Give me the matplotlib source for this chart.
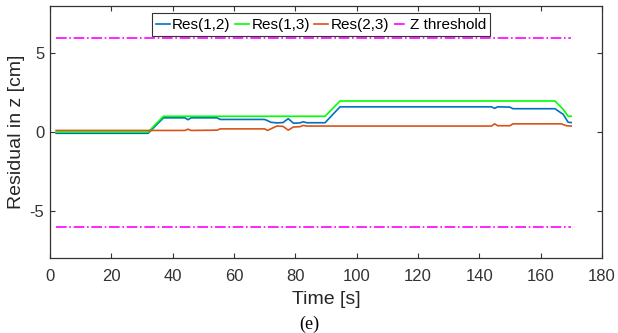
import matplotlib
matplotlib.use("Agg")
import matplotlib.pyplot as plt

# Data
t_b = [2, 32, 37, 44, 45, 46, 54.5, 55.5, 56.5, 70, 71, 72, 74, 76, 77.7, 79.4, 81.5, 82.6, 83.7, 89.7, 94.6, 144, 145, 146, 150, 151, 164.7, 167.4, 169, 170]
v_b = [-0.08, -0.08, 0.9, 0.9, 0.78, 0.9, 0.9, 0.8, 0.8, 0.8, 0.72, 0.62, 0.58, 0.6, 0.85, 0.56, 0.58, 0.65, 0.59, 0.59, 1.6, 1.6, 1.5, 1.6, 1.58, 1.48, 1.48, 1.12, 0.62, 0.6]

t_g = [2, 32, 37, 89.7, 94.6, 164.7, 167.4, 169, 170]
v_g = [0.0, 0.0, 1.0, 1.0, 1.97, 1.97, 1.44, 1.0, 1.0]

t_o = [2, 32, 37, 44, 45, 46, 54.5, 55.5, 57, 70, 71, 72, 74, 76, 77.7, 79.4, 81.5, 82.6, 83.7, 144, 145, 146, 150, 151, 166.8, 168.4, 170]
v_o = [0.1, 0.1, 0.1, 0.1, 0.18, 0.1, 0.12, 0.2, 0.2, 0.2, 0.1, 0.2, 0.38, 0.36, 0.12, 0.32, 0.34, 0.42, 0.38, 0.38, 0.52, 0.4, 0.4, 0.52, 0.52, 0.4, 0.38]

t_thr = [2, 170]
threshold = 6

labels = ["Res(1,2)", "Res(1,3)", "Res(2,3)", "Z threshold"]
x_ticks = [0, 20, 40, 60, 80, 100, 120, 140, 160, 180]
y_ticks = [-5, 0, 5]

plt.rcParams['font.family'] = ['Liberation Sans', 'DejaVu Sans']
plt.rcParams['axes.unicode_minus'] = False

fig = plt.figure(figsize=(6.18, 3.33), dpi=100)
ax = fig.add_axes([0.0809, 0.225, 0.893, 0.757])

ax.plot(t_b, v_b, color='#0072BD', lw=1.2, label=labels[0])
ax.plot(t_g, v_g, color='#00FF00', lw=1.2, label=labels[1])
ax.plot(t_o, v_o, color='#D95319', lw=1.2, label=labels[2])
ax.plot(t_thr, [threshold, threshold], color='#FF00FF', lw=1.2, ls='-.', label=labels[3])
ax.plot(t_thr, [-threshold, -threshold], color='#FF00FF', lw=1.2, ls='-.')

ax.set_xlim(0, 180)
ax.set_ylim(-8, 8)
ax.set_xticks(x_ticks)
ax.set_yticks(y_ticks)
ax.tick_params(direction='in', top=True, right=True, labelsize=12, colors='#333333', length=3.6, width=0.8)
ax.tick_params(axis='x', pad=8)
ax.tick_params(axis='y', pad=4)
for sp in ax.spines.values():
    sp.set_color('#333333')
    sp.set_linewidth(0.9)
ax.set_xlabel("Time [s]", fontsize=14, color='#262626', va='center')
ax.xaxis.set_label_coords(0.5, -0.165)
ax.set_ylabel("Residual in z [cm]", fontsize=14, color='#262626', va='center')
ax.yaxis.set_label_coords(-0.0603, 0.5)

leg = ax.legend(loc='upper center', bbox_to_anchor=(0.491, 0.971), ncol=4, fontsize=11,
                handlelength=0.9, handletextpad=0.15, columnspacing=0.3,
                borderpad=0.3, borderaxespad=0.0, fancybox=False, framealpha=1)
leg.get_frame().set_edgecolor('#333333')
leg.get_frame().set_linewidth(0.8)

fig.text(309 / 618, 0.027, "(e)", fontsize=13, family='Liberation Serif', ha='center', va='center')

fig.savefig("out.png", dpi=100)
